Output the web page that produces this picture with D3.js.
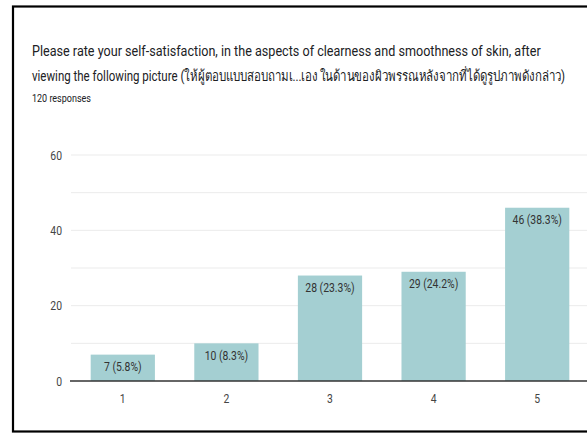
<!DOCTYPE html>
<html>
<head>
<meta charset="utf-8">
<script src="https://cdn.jsdelivr.net/npm/d3@7"></script>
<style>
  html, body { margin: 0; padding: 0; background: #fff; }
  svg { display: block; font-family: Roboto, "Noto Sans", Arial, sans-serif; }
</style>
</head>
<body>
<svg id="chart" width="587" height="434"></svg>
<script>
// Survey question and response counts
const titleLines = [
  "Please rate your self-satisfaction, in the aspects of clearness and smoothness of skin, after",
  "viewing the following picture (ให้ผู้ตอบแบบสอบถามเ...เอง ในด้านของผิวพรรณหลังจากที่ได้ดูรูปภาพดังกล่าว)"
];
const subtitle = "120 responses";
const categories = ["1", "2", "3", "4", "5"];
const counts = [7, 10, 28, 29, 46];
const percents = ["5.8%", "8.3%", "23.3%", "24.2%", "38.3%"];
const yTicks = [0, 20, 40, 60];
const yGrid = [0, 10, 20, 30, 40, 50, 60];

const svg = d3.select("#chart");
const squeeze = 0.8; // horizontal text compression

// outer frame
svg.append("rect")
  .attr("x", 13).attr("y", 6.5)
  .attr("width", 620).attr("height", 425)
  .attr("fill", "none").attr("stroke", "#000").attr("stroke-width", 2.2);

// text fitted to a given width by horizontal scaling
function fitted(str, px, py, size, width) {
  const t = svg.append("text")
    .attr("font-size", size).attr("fill", "#202124")
    .text(str);
  const natural = t.node().getComputedTextLength();
  t.attr("transform", `translate(${px},${py}) scale(${width / natural},1)`);
  return t;
}

// title block
const titleWidths = [509, 537];
titleLines.forEach((t, i) => fitted(t, 32, 56 + i * 25, 14.5, titleWidths[i]));
fitted(subtitle, 32, 102, 10, 59);

// scales
const x = d3.scaleBand().domain(categories).range([71, 589])
  .paddingInner(0.38).paddingOuter(0.19);
const y = d3.scaleLinear().domain([0, 60]).range([381, 155]);

// helper for horizontally compressed text
function squeezed(sel, px, py) {
  return sel.attr("transform", (d, i) => `translate(${px(d, i)},${py(d, i)}) scale(${squeeze},1)`);
}

// gridlines
svg.append("g").selectAll("line").data(yGrid.filter(v => v > 0)).join("line")
  .attr("x1", 71).attr("x2", 587)
  .attr("y1", d => y(d)).attr("y2", d => y(d))
  .attr("stroke", "#ebebeb").attr("stroke-width", 1);

// y tick labels
squeezed(svg.append("g").selectAll("text").data(yTicks).join("text"),
    () => 62, d => y(d) + 4.5)
  .attr("text-anchor", "end").attr("font-size", 13).attr("fill", "#444")
  .text(d => d);

// bars
const data = categories.map((c, i) => ({ c, v: counts[i], p: percents[i] }));
svg.append("g").selectAll("rect").data(data).join("rect")
  .attr("x", d => x(d.c)).attr("width", x.bandwidth())
  .attr("y", d => y(d.v)).attr("height", d => y(0) - y(d.v))
  .attr("fill", "#a4cfd2");

// value labels inside bars
squeezed(svg.append("g").selectAll("text").data(data).join("text"),
    d => x(d.c) + x.bandwidth() / 2, d => y(d.v) + 16.5)
  .attr("text-anchor", "middle").attr("font-size", 13).attr("fill", "#333")
  .text(d => `${d.v} (${d.p})`);

// baseline axis
svg.append("line")
  .attr("x1", 70).attr("x2", 587)
  .attr("y1", y(0)).attr("y2", y(0))
  .attr("stroke", "#333").attr("stroke-width", 1.5);

// x tick labels
squeezed(svg.append("g").selectAll("text").data(categories).join("text"),
    d => x(d) + x.bandwidth() / 2, () => 403)
  .attr("text-anchor", "middle").attr("font-size", 13).attr("fill", "#444")
  .text(d => d);
</script>
</body>
</html>
